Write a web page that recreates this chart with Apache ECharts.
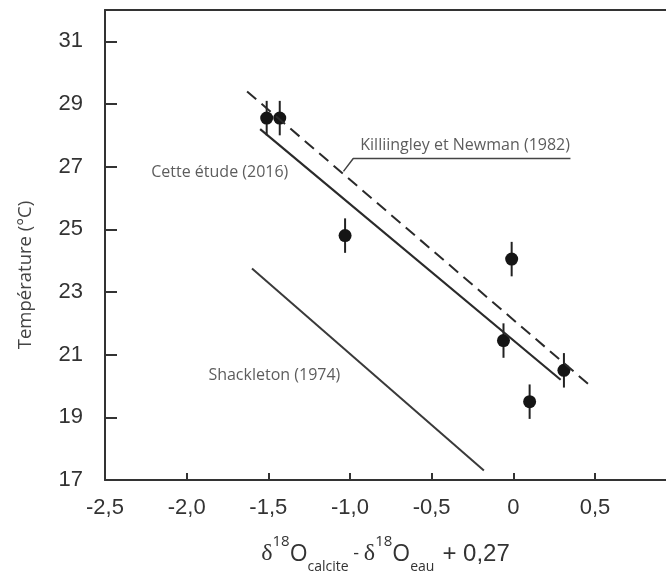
<!DOCTYPE html>
<html lang="fr">
<head>
    <meta charset="UTF-8">
    <title>Temperature - d18O</title>
    <script src="https://cdnjs.cloudflare.com/ajax/libs/echarts/6.0.0/echarts.min.js"></script>
    <style>
        html, body { margin: 0; padding: 0; background: #fff; }
        #main { width: 666px; height: 571px; }
    </style>
</head>
<body>
    <div id="main"></div>
    <script>
        // points mesurés (x, T, barre d'erreur)
        const pointX = [-1.51, -1.43, -1.03, -0.01, -0.06, 0.31, 0.10];
        const pointY = [28.55, 28.55, 24.8, 24.05, 21.45, 20.5, 19.5];
        const pointErr = [0.55, 0.55, 0.55, 0.55, 0.55, 0.55, 0.55];

        // droites de calibration (2 extrémités)
        const cetteEtude = [[-1.55, 28.2], [0.29, 20.2]];
        const killingley = [[-1.63, 29.4], [0.48, 19.97]];
        const shackleton = [[-1.60, 23.75], [-0.18, 17.3]];
        const leader = [[-1.04, 26.85], [-0.98, 27.26], [0.35, 27.26]];

        // étiquettes [x, y, texte]
        const notes = [
            [-2.22, 26.81, 'Cette étude (2016)'],
            [-0.94, 27.67, 'Killiingley et Newman (1982)'],
            [-1.87, 20.35, 'Shackleton (1974)']
        ];

        const yTicks = [17, 19, 21, 23, 25, 27, 29, 31];
        const xTicks = [-2.5, -2, -1.5, -1, -0.5, 0, 0.5];

        const chart = echarts.init(document.getElementById('main'));

        const lineCol = '#2a2a2a';
        const axisCol = '#333';
        const fmtX = v => v === 0 ? '0' : v.toFixed(1).replace('.', ',');

        const option = {
            animation: false,
            grid: {
                left: 105, right: 0, top: 10, bottom: 91,
                outerBoundsMode: 'none',
                containLabel: false
            },
            xAxis: [{
                type: 'value', min: -2.5, max: 0.935,
                splitLine: { show: false },
                axisLine: { onZero: false, lineStyle: { color: axisCol, width: 2 } },
                axisTick: { inside: true, length: 7, lineStyle: { color: axisCol, width: 2 }, customValues: xTicks },
                axisLabel: {
                    customValues: xTicks, formatter: fmtX, margin: 17,
                    color: axisCol, fontSize: 22, fontFamily: 'Liberation Sans'
                },
                name: '{d|δ}{sup|18}{o|O}{sub|calcite}{m| - }{d|δ}{sup|18}{o|O}{sub|eau}{p|+ 0,27}',
                nameLocation: 'middle',
                nameGap: 54,
                nameTextStyle: {
                    color: axisCol,
                    rich: {
                        d: { fontFamily: 'Liberation Serif', fontSize: 24, color: axisCol, lineHeight: 40 },
                        o: { fontFamily: 'Open Sans', fontSize: 23, color: axisCol, lineHeight: 40 },
                        m: { fontFamily: 'Open Sans', fontSize: 18, color: axisCol, lineHeight: 40 },
                        p: { fontFamily: 'Liberation Sans', fontSize: 24, color: axisCol, lineHeight: 40, padding: [0, 0, 0, 8] },
                        sup: { fontFamily: 'Open Sans', fontSize: 15, color: axisCol, verticalAlign: 'top', lineHeight: 18 },
                        sub: { fontFamily: 'Open Sans', fontSize: 14, color: axisCol, verticalAlign: 'bottom', lineHeight: 16 }
                    }
                }
            }, {
                // bord supérieur du cadre
                type: 'value', position: 'top', min: -2.5, max: 0.935,
                splitLine: { show: false },
                axisLine: { onZero: false, lineStyle: { color: axisCol, width: 2 } },
                axisTick: { show: false },
                axisLabel: { show: false }
            }],
            yAxis: {
                type: 'value', min: 17, max: 32,
                splitLine: { show: false },
                axisLine: { onZero: false, lineStyle: { color: axisCol, width: 2 } },
                axisTick: { inside: true, length: 12, lineStyle: { color: axisCol, width: 2 }, customValues: yTicks },
                axisLabel: {
                    customValues: yTicks, margin: 22,
                    color: axisCol, fontSize: 22, fontFamily: 'Liberation Sans'
                },
                name: 'Température (°C)',
                nameLocation: 'middle',
                nameGap: 70,
                nameTextStyle: { color: '#444', fontSize: 18.5, fontFamily: 'Open Sans', padding: [0, 60, 0, 0] }
            },
            series: [
                {
                    type: 'line', data: cetteEtude, showSymbol: false, silent: true,
                    lineStyle: { color: lineCol, width: 2.2 }
                },
                {
                    type: 'line', data: killingley, showSymbol: false, silent: true,
                    lineStyle: { color: lineCol, width: 2, type: [12, 7] }
                },
                {
                    type: 'line', data: shackleton, showSymbol: false, silent: true,
                    lineStyle: { color: '#3a3a3a', width: 2 }
                },
                {
                    type: 'line', data: leader, showSymbol: false, silent: true,
                    lineStyle: { color: '#444', width: 1.5 }
                },
                {
                    type: 'custom',
                    data: pointX.map((x, i) => [x, pointY[i], pointErr[i]]),
                    encode: { x: 0, y: 1 },
                    renderItem: (params, api) => {
                        const x = api.value(0), y = api.value(1), e = api.value(2);
                        const a = api.coord([x, y + e]);
                        const b = api.coord([x, y - e]);
                        return {
                            type: 'line',
                            shape: { x1: a[0], y1: a[1], x2: b[0], y2: b[1] },
                            style: { stroke: '#222', lineWidth: 2 }
                        };
                    }
                },
                {
                    type: 'scatter',
                    data: pointX.map((x, i) => [x, pointY[i]]),
                    symbol: 'circle', symbolSize: 13,
                    itemStyle: { color: '#151515', opacity: 1 }
                },
                {
                    type: 'scatter',
                    data: notes.map(n => ({ value: [n[0], n[1]], name: n[2] })),
                    symbolSize: 1,
                    itemStyle: { color: 'rgba(0,0,0,0)' },
                    label: {
                        show: true, position: 'right', distance: 0,
                        formatter: p => p.name,
                        color: axisCol, fontSize: 16, fontFamily: 'Open Sans'
                    }
                }
            ]
        };

        chart.setOption(option);
    </script>
</body>
</html>
